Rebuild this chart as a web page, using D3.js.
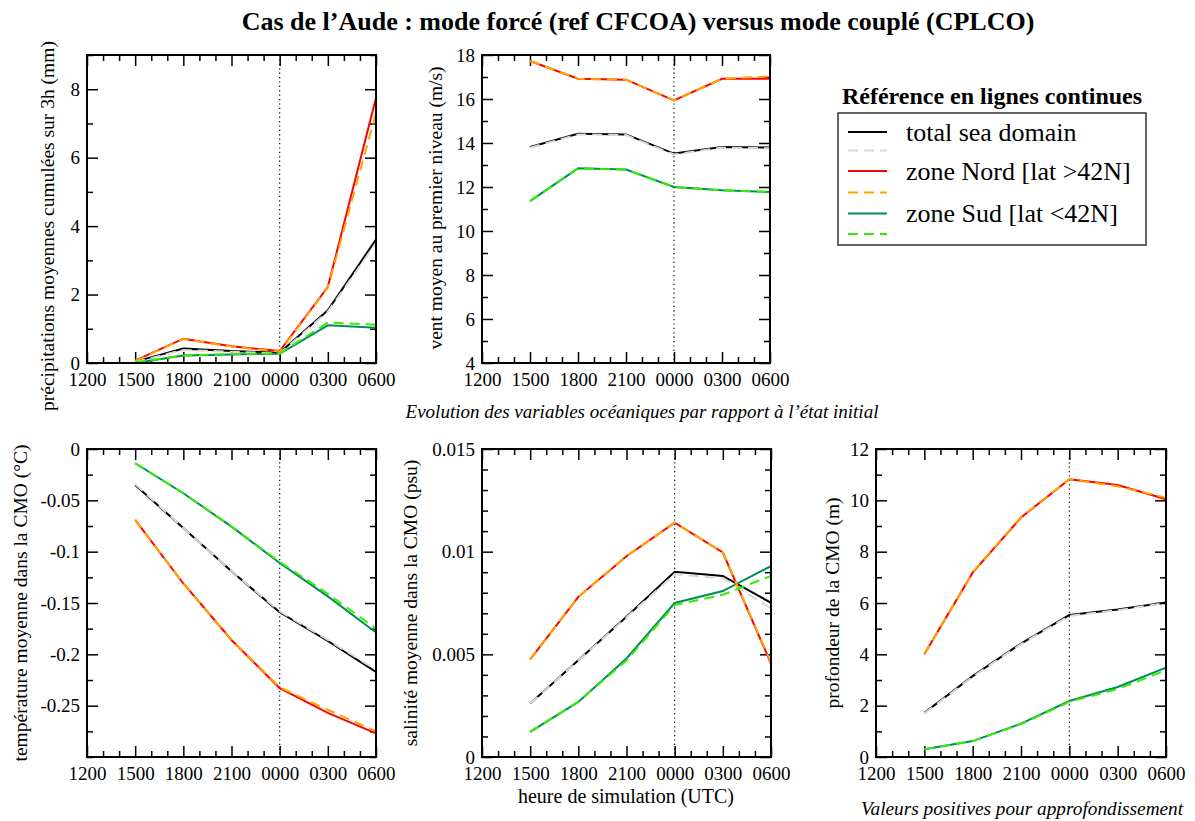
<!DOCTYPE html>
<html><head><meta charset="utf-8">
<script src="https://cdn.jsdelivr.net/npm/d3@7/dist/d3.min.js"></script>
<style>
body{margin:0;background:#fff;}
svg{display:block;font-family:"Liberation Serif","Times New Roman",serif;}
svg text{font-family:"Liberation Serif","Times New Roman",serif;}
</style></head>
<body><svg id="c" width="1195" height="821"></svg>
<script>
// ---------------- DATA ----------------
const hours = [3, 6, 9, 12, 15, 18]; // hours after 1200 UTC: 1500 ... 0600
const xTickValues = [0, 3, 6, 9, 12, 15, 18];
const xTickLabels = ["1200", "1500", "1800", "2100", "0000", "0300", "0600"];
const seriesNames = ["total sea domain", "zone Nord [lat >42N]", "zone Sud [lat <42N]"];

// précipitations (mm)
const precipTotalRef = [0.04, 0.42, 0.35, 0.30, 1.54, 3.61];
const precipTotalCpl = [0.03, 0.38, 0.33, 0.28, 1.50, 3.50];
const precipNordRef  = [0.07, 0.71, 0.49, 0.35, 2.22, 7.74];
const precipNordCpl  = [0.06, 0.70, 0.48, 0.33, 2.20, 7.30];
const precipSudRef   = [0.00, 0.22, 0.25, 0.27, 1.10, 1.03];
const precipSudCpl   = [0.02, 0.22, 0.26, 0.28, 1.18, 1.12];
const precipTicks = [0, 2, 4, 6, 8];
const precipTickLabels = ["0", "2", "4", "6", "8"];

// vent (m/s)
const windTotalRef = [13.82, 14.42, 14.39, 13.52, 13.82, 13.79];
const windTotalCpl = [13.79, 14.39, 14.36, 13.48, 13.79, 13.76];
const windNordRef  = [17.73, 16.92, 16.88, 15.94, 16.92, 16.92];
const windNordCpl  = [17.73, 16.92, 16.88, 15.94, 16.92, 17.03];
const windSudRef   = [11.36, 12.85, 12.79, 12.00, 11.85, 11.77];
const windSudCpl   = [11.36, 12.85, 12.79, 12.00, 11.85, 11.78];
const windTicks = [4, 6, 8, 10, 12, 14, 16, 18];
const windTickLabels = ["4", "6", "8", "10", "12", "14", "16", "18"];

// température CMO (°C)
const tempTotalRef = [-0.035, -0.077, -0.119, -0.159, -0.187, -0.217];
const tempTotalCpl = [-0.034, -0.077, -0.119, -0.158, -0.186, -0.215];
const tempNordRef  = [-0.069, -0.131, -0.186, -0.233, -0.257, -0.277];
const tempNordCpl  = [-0.069, -0.131, -0.186, -0.232, -0.254, -0.275];
const tempSudRef   = [-0.0139, -0.0431, -0.0756, -0.111, -0.1436, -0.1787];
const tempSudCpl   = [-0.0139, -0.0431, -0.0756, -0.110, -0.141, -0.175];
const tempTicks = [0, -0.05, -0.1, -0.15, -0.2, -0.25];
const tempTickLabels = ["0", "-0.05", "-0.1", "-0.15", "-0.2", "-0.25"];

// salinité CMO (psu)
const salTotalRef = [0.0026, 0.00471, 0.00683, 0.00902, 0.00882, 0.00751];
const salTotalCpl = [0.0026, 0.0047, 0.0068, 0.0089, 0.0087, 0.00723];
const salNordRef  = [0.00475, 0.0078, 0.00978, 0.01141, 0.00996, 0.00455];
const salNordCpl  = [0.00475, 0.0078, 0.00978, 0.01141, 0.00996, 0.00460];
const salSudRef   = [0.00122, 0.00268, 0.0048, 0.0075, 0.00808, 0.0093];
const salSudCpl   = [0.00122, 0.0027, 0.0047, 0.0074, 0.0079, 0.00882];
const salTicks = [0, 0.005, 0.01, 0.015];
const salTickLabels = ["0", "0.005", "0.01", "0.015"];

// profondeur CMO (m)
const depthTotalRef = [1.72, 3.15, 4.42, 5.53, 5.75, 6.02];
const depthTotalCpl = [1.70, 3.13, 4.40, 5.50, 5.72, 6.00];
const depthNordRef  = [4.0, 7.18, 9.33, 10.82, 10.60, 10.04];
const depthNordCpl  = [4.0, 7.20, 9.35, 10.82, 10.55, 10.10];
const depthSudRef   = [0.30, 0.62, 1.30, 2.18, 2.73, 3.48];
const depthSudCpl   = [0.30, 0.62, 1.28, 2.15, 2.65, 3.38];
const depthTicks = [0, 2, 4, 6, 8, 10, 12];
const depthTickLabels = ["0", "2", "4", "6", "8", "10", "12"];

// ---------------- STYLE / LAYOUT ----------------
const refColors = ["#000000", "#ff0000", "#008c5a"];
const cplColors = ["#d8d8d8", "#ffa500", "#33ee00"];
const FONT = "'Liberation Serif', 'Times New Roman', serif";

const panels = [
  {x0: 87, x1: 376, y0: 55, y1: 363, dom: [0, 9], minor: 1, ticks: precipTicks, labels: precipTickLabels,
   ref: [precipTotalRef, precipNordRef, precipSudRef], cpl: [precipTotalCpl, precipNordCpl, precipSudCpl],
   ylab: "précipitations moyennes cumulées sur 3h (mm)", ylx: 47, yly: 226},
  {x0: 482, x1: 770, y0: 55, y1: 363, dom: [4, 18], minor: 1, ticks: windTicks, labels: windTickLabels,
   ref: [windTotalRef, windNordRef, windSudRef], cpl: [windTotalCpl, windNordCpl, windSudCpl],
   ylab: "vent moyen au premier niveau (m/s)", ylx: 435, yly: 208},
  {x0: 87, x1: 376, y0: 449, y1: 757, dom: [-0.3, 0], minor: 0.025, ticks: tempTicks, labels: tempTickLabels,
   ref: [tempTotalRef, tempNordRef, tempSudRef], cpl: [tempTotalCpl, tempNordCpl, tempSudCpl],
   ylab: "température moyenne dans la CMO (°C)", ylx: 20, yly: 603},
  {x0: 482, x1: 771, y0: 449, y1: 757, dom: [0, 0.015], minor: 0.001, ticks: salTicks, labels: salTickLabels,
   ref: [salTotalRef, salNordRef, salSudRef], cpl: [salTotalCpl, salNordCpl, salSudCpl],
   ylab: "salinité moyenne dans la CMO (psu)", ylx: 410, yly: 603},
  {x0: 876, x1: 1166, y0: 449, y1: 757, dom: [0, 12], minor: 1, ticks: depthTicks, labels: depthTickLabels,
   ref: [depthTotalRef, depthNordRef, depthSudRef], cpl: [depthTotalCpl, depthNordCpl, depthSudCpl],
   ylab: "profondeur de la CMO (m)", ylx: 832, yly: 603}
];

const svg = d3.select("#c");
const MAJ = 11, MIN = 6;

panels.forEach(p => {
  const x = d3.scaleLinear().domain([0, 18]).range([p.x0, p.x1]);
  const y = d3.scaleLinear().domain(p.dom).range([p.y1, p.y0]);
  const g = svg.append("g");
  const xMinor = d3.range(0, 18.001, 1).filter(v => v % 3 !== 0);
  const nMin = Math.round((p.dom[1] - p.dom[0]) / p.minor);
  const yMinor = d3.range(0, nMin + 1).map(i => p.dom[0] + i * p.minor)
     .filter(v => !p.ticks.some(t => Math.abs(t - v) < p.minor / 10));
  const yMajorAll = p.ticks.slice();

  const styleAxis = sel => {
    sel.attr("font-family", null).attr("font-size", 19);
    sel.select(".domain").remove();
    sel.selectAll("line").attr("stroke", "#000").attr("stroke-width", 1.5);
    sel.selectAll("text").attr("fill", "#000").style("font-family", FONT).style("font-size", "19px");
  };

  // minor ticks
  g.append("g").attr("transform", `translate(0,${p.y1})`).call(d3.axisBottom(x).tickValues(xMinor).tickSize(-MIN).tickFormat("")).call(styleAxis);
  g.append("g").attr("transform", `translate(0,${p.y0})`).call(d3.axisTop(x).tickValues(xMinor).tickSize(-MIN).tickFormat("")).call(styleAxis);
  g.append("g").attr("transform", `translate(${p.x0},0)`).call(d3.axisLeft(y).tickValues(yMinor).tickSize(-MIN).tickFormat("")).call(styleAxis);
  g.append("g").attr("transform", `translate(${p.x1},0)`).call(d3.axisRight(y).tickValues(yMinor).tickSize(-MIN).tickFormat("")).call(styleAxis);
  // major ticks
  g.append("g").attr("transform", `translate(0,${p.y1})`)
    .call(d3.axisBottom(x).tickValues(xTickValues).tickSize(-MAJ).tickPadding(10).tickFormat((d, i) => xTickLabels[i]))
    .call(styleAxis);
  g.append("g").attr("transform", `translate(0,${p.y0})`).call(d3.axisTop(x).tickValues(xTickValues).tickSize(-MAJ).tickFormat("")).call(styleAxis);
  g.append("g").attr("transform", `translate(${p.x0},0)`)
    .call(d3.axisLeft(y).tickValues(yMajorAll).tickSize(-MAJ).tickPadding(7).tickFormat((d, i) => p.labels[i]))
    .call(styleAxis);
  g.append("g").attr("transform", `translate(${p.x1},0)`).call(d3.axisRight(y).tickValues(yMajorAll).tickSize(-MAJ).tickFormat("")).call(styleAxis);

  // dotted line at 0000
  g.append("line").attr("x1", x(12)).attr("x2", x(12)).attr("y1", p.y0).attr("y2", p.y1)
    .attr("stroke", "#000").attr("stroke-width", 1.2).attr("stroke-dasharray", "1.2,3.2");

  const line = d3.line().x((d, i) => x(hours[i])).y(d => y(d));
  // reference (solid) lines
  p.ref.forEach((arr, k) => {
    g.append("path").datum(arr).attr("d", line).attr("fill", "none")
      .attr("stroke", refColors[k]).attr("stroke-width", 2);
  });
  // coupled (dashed) lines
  p.cpl.forEach((arr, k) => {
    g.append("path").datum(arr).attr("d", line).attr("fill", "none")
      .attr("stroke", cplColors[k]).attr("stroke-width", 2).attr("stroke-dasharray", "10,6");
  });

  // frame
  g.append("rect").attr("x", p.x0).attr("y", p.y0).attr("width", p.x1 - p.x0).attr("height", p.y1 - p.y0)
    .attr("fill", "none").attr("stroke", "#000").attr("stroke-width", 2);

  // y label
  svg.append("text").attr("transform", `translate(${p.ylx},${p.yly}) rotate(-90)`)
    .attr("text-anchor", "middle").attr("dominant-baseline", "central")
    .attr("font-size", 19.5).text(p.ylab);
});

// titles
svg.append("text").attr("x", 638).attr("y", 30).attr("text-anchor", "middle")
  .attr("font-size", 26).attr("font-weight", "bold").text("Cas de l’Aude : mode forcé (ref CFCOA) versus mode couplé (CPLCO)");
svg.append("text").attr("x", 642).attr("y", 418).attr("text-anchor", "middle")
  .attr("font-size", 19).attr("font-style", "italic").text("Evolution des variables océaniques par rapport à l’état initial");
svg.append("text").attr("x", 626).attr("y", 803).attr("text-anchor", "middle")
  .attr("font-size", 20).text("heure de simulation (UTC)");
svg.append("text").attr("x", 1022).attr("y", 815).attr("text-anchor", "middle")
  .attr("font-size", 19.3).attr("font-style", "italic").text("Valeurs positives pour approfondissement");

// legend
const lg = svg.append("g");
lg.append("text").attr("x", 992).attr("y", 104).attr("text-anchor", "middle")
  .attr("font-size", 24).attr("font-weight", "bold").text("Référence en lignes continues");
lg.append("rect").attr("x", 838).attr("y", 113).attr("width", 308).attr("height", 132)
  .attr("fill", "none").attr("stroke", "#333").attr("stroke-width", 1.5);
const rowRef = [132, 171, 213.5], rowCpl = [150.5, 192.5, 234];
seriesNames.forEach((name, k) => {
  lg.append("line").attr("x1", 848).attr("x2", 887).attr("y1", rowRef[k]).attr("y2", rowRef[k])
    .attr("stroke", refColors[k]).attr("stroke-width", 2);
  lg.append("line").attr("x1", 848).attr("x2", 887).attr("y1", rowCpl[k]).attr("y2", rowCpl[k])
    .attr("stroke", cplColors[k]).attr("stroke-width", 2).attr("stroke-dasharray", "10,6");
  lg.append("text").attr("x", 906).attr("y", rowRef[k]).attr("dominant-baseline", "central")
    .attr("font-size", 26).text(name);
});
</script></body></html>
